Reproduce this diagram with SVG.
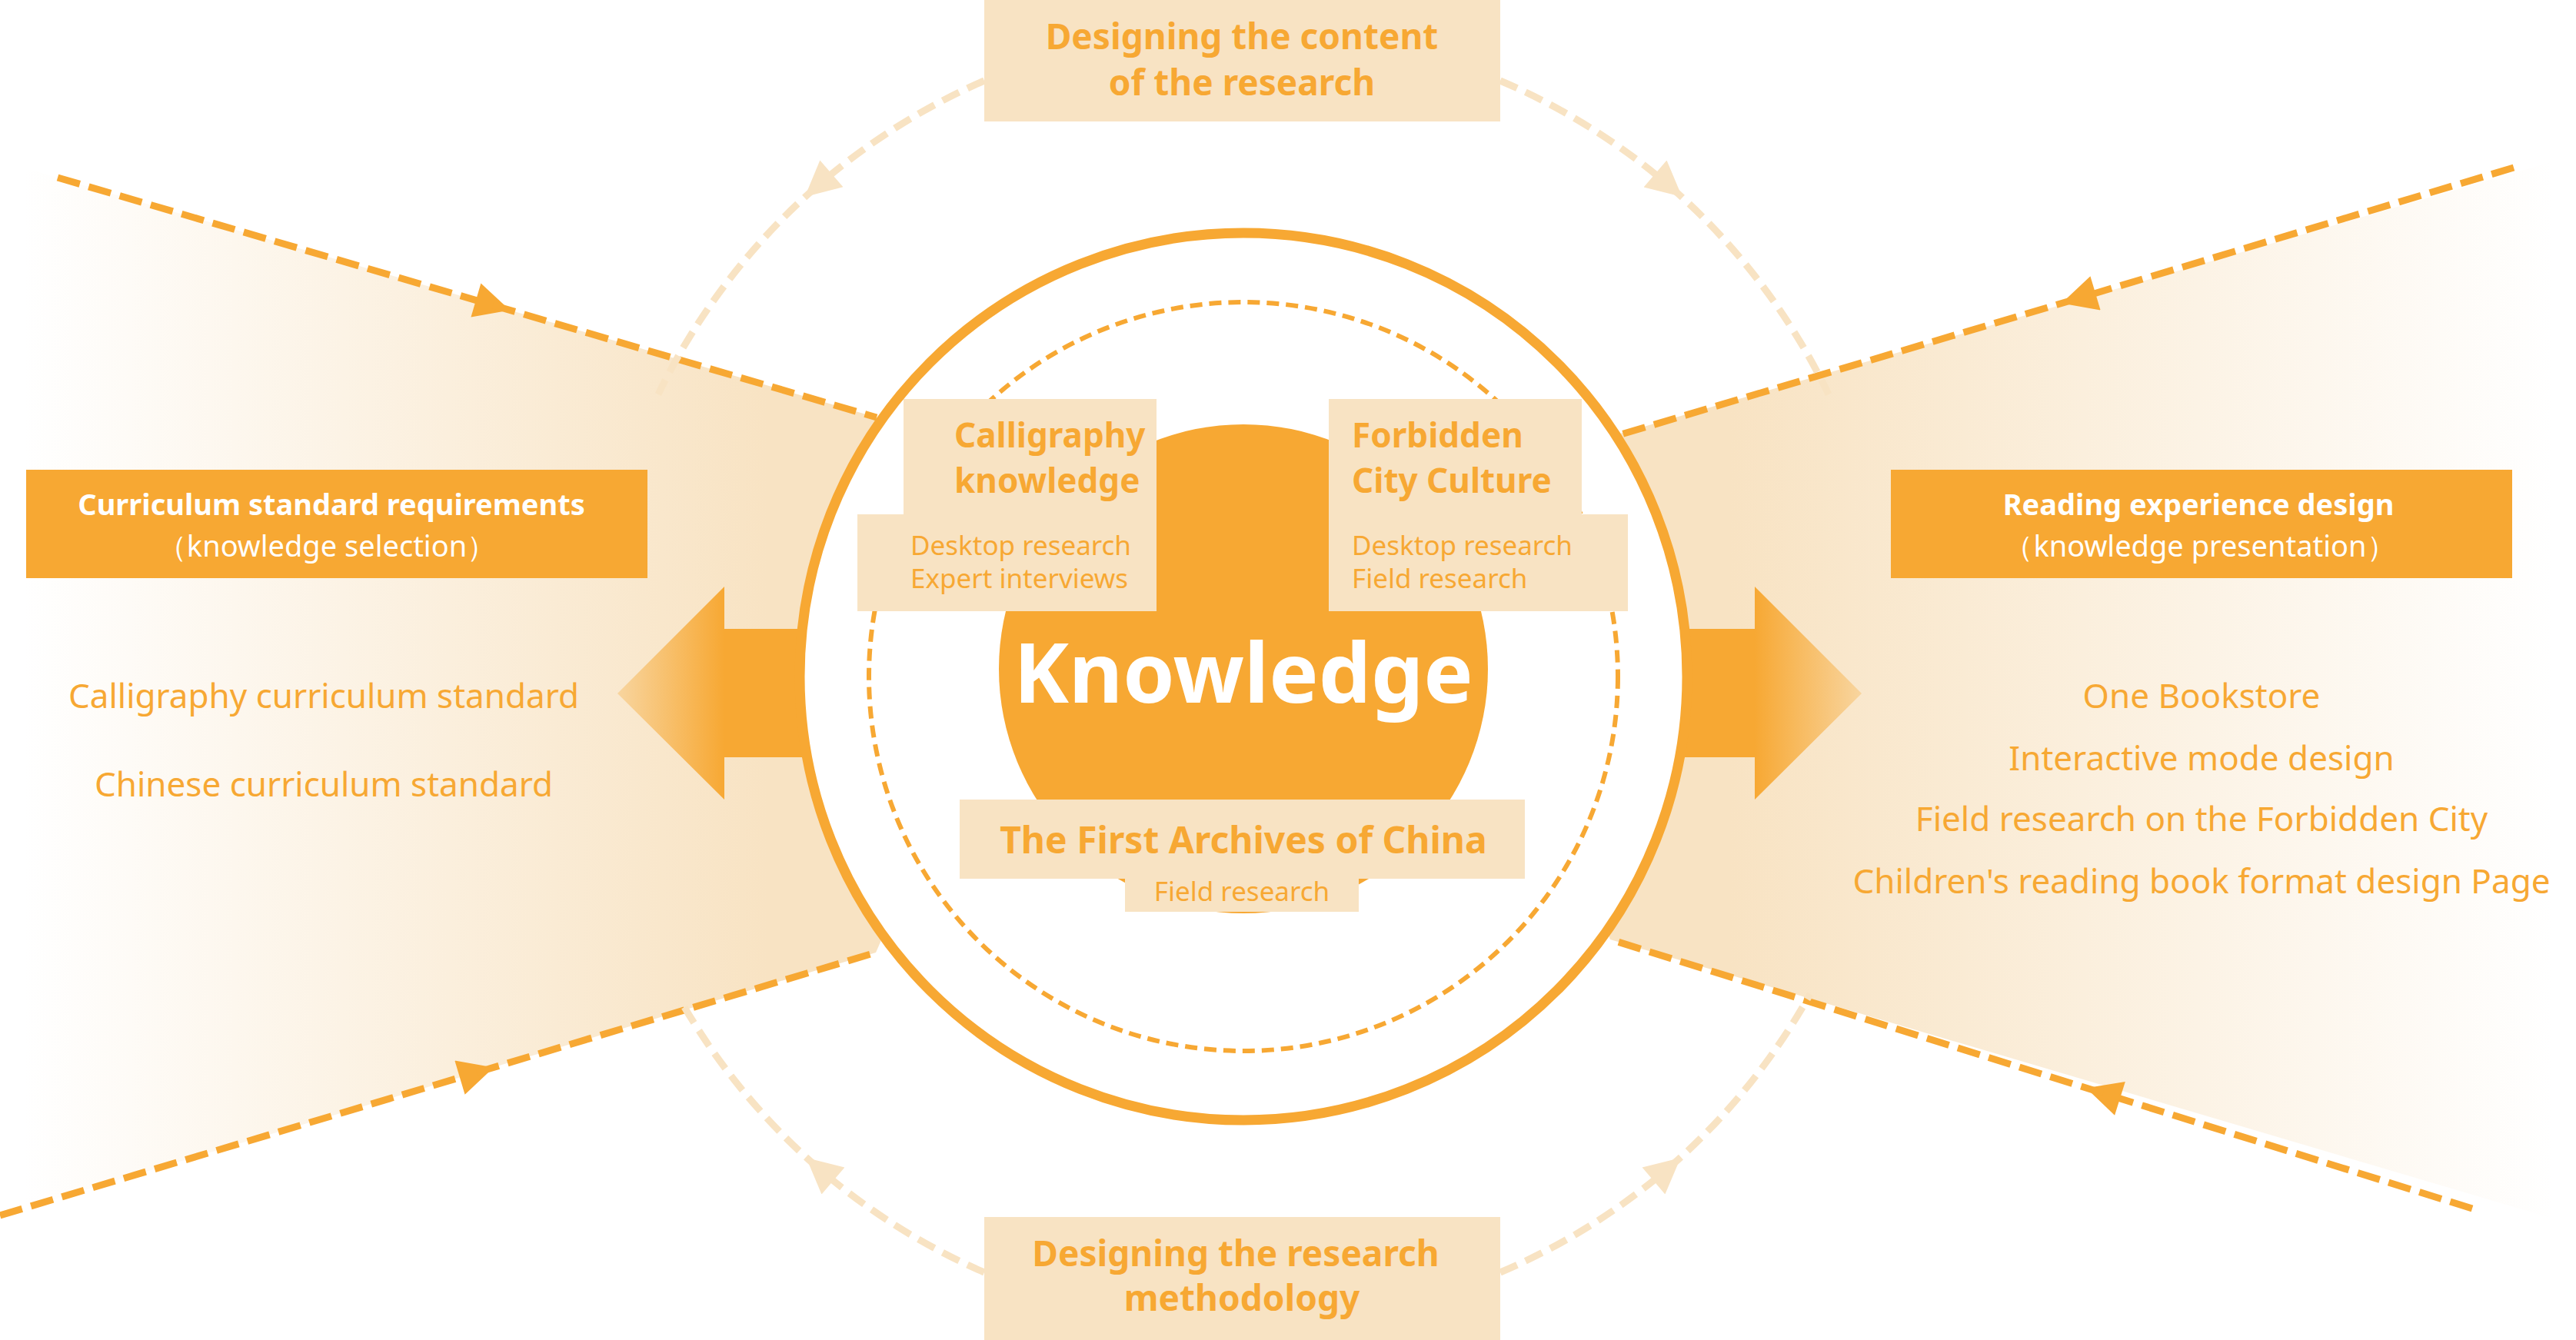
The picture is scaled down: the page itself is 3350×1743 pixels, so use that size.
<svg xmlns="http://www.w3.org/2000/svg" width="3350" height="1743" viewBox="0 0 3350 1743">
<defs>
<linearGradient id="gl" x1="30" y1="0" x2="1000" y2="0" gradientUnits="userSpaceOnUse"><stop offset="0" stop-color="#F8E3C3" stop-opacity="0"/><stop offset="1" stop-color="#F8E3C3"/></linearGradient>
<linearGradient id="gr" x1="2250" y1="0" x2="3320" y2="0" gradientUnits="userSpaceOnUse"><stop offset="0" stop-color="#F8E3C3"/><stop offset="1" stop-color="#F8E3C3" stop-opacity="0"/></linearGradient>
<linearGradient id="al" x1="803" y1="0" x2="942" y2="0" gradientUnits="userSpaceOnUse"><stop offset="0" stop-color="#F8D59F"/><stop offset="1" stop-color="#F7A833"/></linearGradient>
<linearGradient id="ar" x1="2421" y1="0" x2="2282" y2="0" gradientUnits="userSpaceOnUse"><stop offset="0" stop-color="#F8D59F"/><stop offset="1" stop-color="#F7A833"/></linearGradient>
<marker id="mo" viewBox="0 0 10 10" refX="5" refY="5" markerWidth="52" markerHeight="46" markerUnits="userSpaceOnUse" orient="auto"><path d="M0,0 L10,5 L0,10 z" fill="#F7A833"/></marker>
<marker id="ml" viewBox="0 0 10 10" refX="5" refY="5" markerWidth="52" markerHeight="46" markerUnits="userSpaceOnUse" orient="auto"><path d="M0,0 L10,5 L0,10 z" fill="#F8E3C3"/></marker>
</defs>
<style>
.dl{fill:none;stroke:#F7A833;stroke-width:9;stroke-dasharray:30 12}
.la{fill:none;stroke:#F8E3C3;stroke-width:9;stroke-dasharray:24 12}
.bx{fill:#F8E3C3}
.ob{fill:#F7A833}
.t{font-family:"Noto Sans","Open Sans",sans-serif;fill:#F7A833}
.b{font-weight:bold}
.w{fill:#ffffff}
</style>
<g id="fans">
<polygon points="30,218 1140,543 1200,700 1200,1100 1139,1239 30,1572" fill="url(#gl)"/>
<polygon points="3320,210 2100,566 2050,700 2050,1100 2094,1222 3320,1585" fill="url(#gr)"/>
</g>
<g id="connectors">
<path class="dl" d="M75,231 L641,397" marker-end="url(#mo)"/>
<path class="dl" d="M641,397 L1140,543"/>
<path class="dl" d="M0,1581 L620,1395" marker-end="url(#mo)"/>
<path class="dl" d="M620,1395 L1139,1239"/>
<path class="dl" d="M3269,218 L2703,388" marker-end="url(#mo)"/>
<path class="dl" d="M2703,388 L2105,566"/>
<path class="dl" d="M3215,1572 L2735,1422" marker-end="url(#mo)"/>
<path class="dl" d="M2735,1422 L2094,1222"/>
<path class="la" d="M1280,105 A845,845 0 0 0 1064,241" marker-end="url(#ml)"/>
<path class="la" d="M1064,241 A845,845 0 0 0 856,513"/>
<path class="la" d="M1951,105 A845,845 0 0 1 2170,241" marker-end="url(#ml)"/>
<path class="la" d="M2170,241 A845,845 0 0 1 2378,513"/>
<path class="la" d="M1280,1655 A845,845 0 0 1 1066,1521" marker-end="url(#ml)"/>
<path class="la" d="M1066,1521 A845,845 0 0 1 886,1303"/>
<path class="la" d="M1951,1655 A845,845 0 0 0 2168,1521" marker-end="url(#ml)"/>
<path class="la" d="M2168,1521 A845,845 0 0 0 2354,1293"/>
</g>
<g id="arrow-left"><polygon points="803,902 942,763 942,818 1060,818 1060,985 942,985 942,1040" fill="url(#al)"/></g>
<g id="arrow-right"><polygon points="2421,902 2282,763 2282,818 2170,818 2170,985 2282,985 2282,1040" fill="url(#ar)"/></g>
<g id="core">
<circle cx="1617" cy="880" r="577" fill="#ffffff" stroke="#F7A833" stroke-width="13"/>
<circle cx="1617" cy="880" r="487" fill="none" stroke="#F7A833" stroke-width="6" stroke-dasharray="16 9"/>
<circle cx="1617" cy="870" r="318" class="ob"/>
<text class="t b w" x="1617" y="914" font-size="108" text-anchor="middle">Knowledge</text>
</g>
<g id="top-box">
<rect class="bx" x="1280" y="0" width="671" height="158"/>
<text class="t b" x="1615" y="64" font-size="46" text-anchor="middle">Designing the content</text>
<text class="t b" x="1615" y="124" font-size="46" text-anchor="middle">of the research</text>
</g>
<g id="bottom-box">
<rect class="bx" x="1280" y="1583" width="671" height="160"/>
<text class="t b" x="1607" y="1647" font-size="46" text-anchor="middle">Designing the research</text>
<text class="t b" x="1615" y="1705" font-size="46" text-anchor="middle">methodology</text>
</g>
<g id="calligraphy">
<polygon class="bx" points="1175,519 1504,519 1504,795 1115,795 1115,669 1175,669"/>
<text class="t b" x="1241" y="582" font-size="44">Calligraphy</text>
<text class="t b" x="1241" y="641" font-size="44">knowledge</text>
<text class="t" x="1184" y="722" font-size="35">Desktop research</text>
<text class="t" x="1184" y="765" font-size="35">Expert interviews</text>
</g>
<g id="forbidden">
<polygon class="bx" points="1728,519 2057,519 2057,669 2117,669 2117,795 1728,795"/>
<text class="t b" x="1758" y="582" font-size="44">Forbidden</text>
<text class="t b" x="1758" y="641" font-size="44">City Culture</text>
<text class="t" x="1758" y="722" font-size="35">Desktop research</text>
<text class="t" x="1758" y="765" font-size="35">Field research</text>
</g>
<g id="archives">
<polygon class="bx" points="1248,1040 1983,1040 1983,1143 1767,1143 1767,1186 1463,1186 1463,1143 1248,1143"/>
<text class="t b" x="1617" y="1110" font-size="48" text-anchor="middle">The First Archives of China</text>
<text class="t" x="1615" y="1172" font-size="35" text-anchor="middle">Field research</text>
</g>
<g id="left-label">
<rect class="ob" x="34" y="611" width="808" height="141"/>
<text class="t b w" x="431" y="670" font-size="38" text-anchor="middle">Curriculum standard requirements</text>
<text class="t w" x="425" y="724" font-size="38" text-anchor="middle">（knowledge selection）</text>
</g>
<g id="right-label">
<rect class="ob" x="2459" y="611" width="808" height="141"/>
<text class="t b w" x="2859" y="670" font-size="38" text-anchor="middle">Reading experience design</text>
<text class="t w" x="2861" y="724" font-size="38" text-anchor="middle">（knowledge presentation）</text>
</g>
<g id="left-list">
<text class="t" x="421" y="921" font-size="44" text-anchor="middle">Calligraphy curriculum standard</text>
<text class="t" x="421" y="1036" font-size="44" text-anchor="middle">Chinese curriculum standard</text>
</g>
<g id="right-list">
<text class="t" x="2863" y="921" font-size="44" text-anchor="middle">One Bookstore</text>
<text class="t" x="2863" y="1002" font-size="44" text-anchor="middle">Interactive mode design</text>
<text class="t" x="2863" y="1081" font-size="44" text-anchor="middle">Field research on the Forbidden City</text>
<text class="t" x="2863" y="1162" font-size="44" text-anchor="middle">Children's reading book format design Page</text>
</g>
</svg>
